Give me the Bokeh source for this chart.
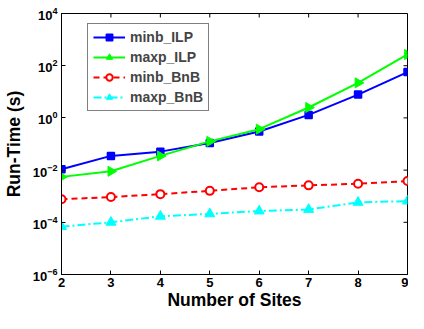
import math
from bokeh.plotting import figure
from bokeh.models import FixedTicker, Legend, LegendItem, Range1d
from bokeh.embed import file_html
from bokeh.resources import INLINE

sites = [2, 3, 4, 5, 6, 7, 8, 9]
minb_ILP = [0.0107, 0.035, 0.051, 0.11, 0.30, 1.3, 7.8, 57]
maxp_ILP = [0.0055, 0.009, 0.035, 0.126, 0.37, 2.5, 22, 270]
minb_BnB = [7.6e-4, 9.3e-4, 1.2e-3, 1.6e-3, 2.2e-3, 2.6e-3, 3.0e-3, 3.8e-3]
maxp_BnB = [6.8e-5, 1.0e-4, 1.7e-4, 2.1e-4, 2.7e-4, 3.1e-4, 5.8e-4, 6.5e-4]
y_ticks = [1e-6, 1e-4, 1e-2, 1e0, 1e2, 1e4]
x_ticks = [2, 3, 4, 5, 6, 7, 8, 9]

FONT = "Liberation Sans"
W, H = 408, 313
BL, BR, BT, BB = 61, 1, 13, 39
X0, X1, Y0, Y1 = 2, 9, 1e-6, 1e4

p = figure(width=W, height=H, y_axis_type="log",
           x_range=Range1d(X0, X1), y_range=Range1d(Y0, Y1),
           output_backend="svg", toolbar_location=None,
           min_border_left=BL, min_border_right=BR, min_border_top=BT, min_border_bottom=BB)
p.xgrid.visible = False
p.ygrid.visible = False
p.outline_line_color = "black"
p.outline_line_width = 1

for ax in (p.xaxis[0], p.yaxis[0]):
    ax.major_tick_in = 4
    ax.major_tick_out = 0
    ax.minor_tick_in = 0
    ax.minor_tick_out = 0
    ax.axis_line_color = "black"
    ax.major_tick_line_color = "black"
    ax.major_label_text_font = FONT
    ax.major_label_text_font_style = "bold"
    ax.major_label_text_font_size = "13px"
    ax.major_label_text_color = "black"
    ax.axis_label_text_font = FONT
    ax.axis_label_text_font_style = "bold"
    ax.axis_label_text_font_size = "17.5px"
    ax.axis_label_text_color = "black"

p.xaxis.ticker = FixedTicker(ticks=x_ticks, minor_ticks=[])
p.yaxis.ticker = FixedTicker(ticks=y_ticks, minor_ticks=[])
p.xaxis.axis_label = "Number of Sites"
p.yaxis.axis_label = "Run-Time (s)"
p.xaxis.major_label_standoff = 3
p.yaxis.major_label_standoff = 4
p.xaxis.axis_label_standoff = 0
p.yaxis.axis_label_standoff = 6

# inward ticks on the top and right edges of the box
p.ray(x=x_ticks, y=[Y1] * len(x_ticks), length=4, length_units="screen",
      angle=-math.pi / 2, line_color="black", line_width=1)
p.ray(x=[X1] * len(y_ticks), y=y_ticks, length=4, length_units="screen",
      angle=math.pi, line_color="black", line_width=1)

r1 = p.line(sites, minb_ILP, line_color="#0000ff", line_width=2)
s1 = p.scatter(sites, minb_ILP, marker="square", size=7, line_color="#0000ff", fill_color="#0000ff", line_width=1.5)
r2 = p.line(sites, maxp_ILP, line_color="#00ff00", line_width=2)
s2 = p.scatter(sites, maxp_ILP, marker="triangle", angle=-1.5708, size=10, line_color="#00ff00", fill_color="#00ff00")
r3 = p.line(sites, minb_BnB, line_color="#ff0000", line_width=2, line_dash="6 4")
s3 = p.scatter(sites, minb_BnB, marker="circle", size=8, line_color="#ff0000", fill_color="white", line_width=2)
r4 = p.line(sites, maxp_BnB, line_color="#00ffff", line_width=2, line_dash="8 3 2 3")
s4 = p.scatter(sites, maxp_BnB, marker="triangle", size=10, line_color="#00ffff", fill_color="#00ffff")

legend = Legend(items=[
    LegendItem(label="minb_ILP", renderers=[r1, s1]),
    LegendItem(label="maxp_ILP", renderers=[r2, s2]),
    LegendItem(label="minb_BnB", renderers=[r3, s3]),
    LegendItem(label="maxp_BnB", renderers=[r4, s4]),
])
legend.margin = 0
legend.padding = 5
legend.spacing = 4
legend.glyph_width = 32
legend.glyph_height = 16
legend.label_height = 16
legend.label_standoff = 5
legend.label_text_font = FONT
legend.label_text_font_style = "bold"
legend.label_text_font_size = "14px"
legend.border_line_color = "black"
legend.border_line_width = 1
legend.background_fill_alpha = 1
p.add_layout(legend, "center")
frame_h = H - BT - BB
legend.location = (26, frame_h - 12 - 86)

open("out.html", "w").write(file_html(p, INLINE))
